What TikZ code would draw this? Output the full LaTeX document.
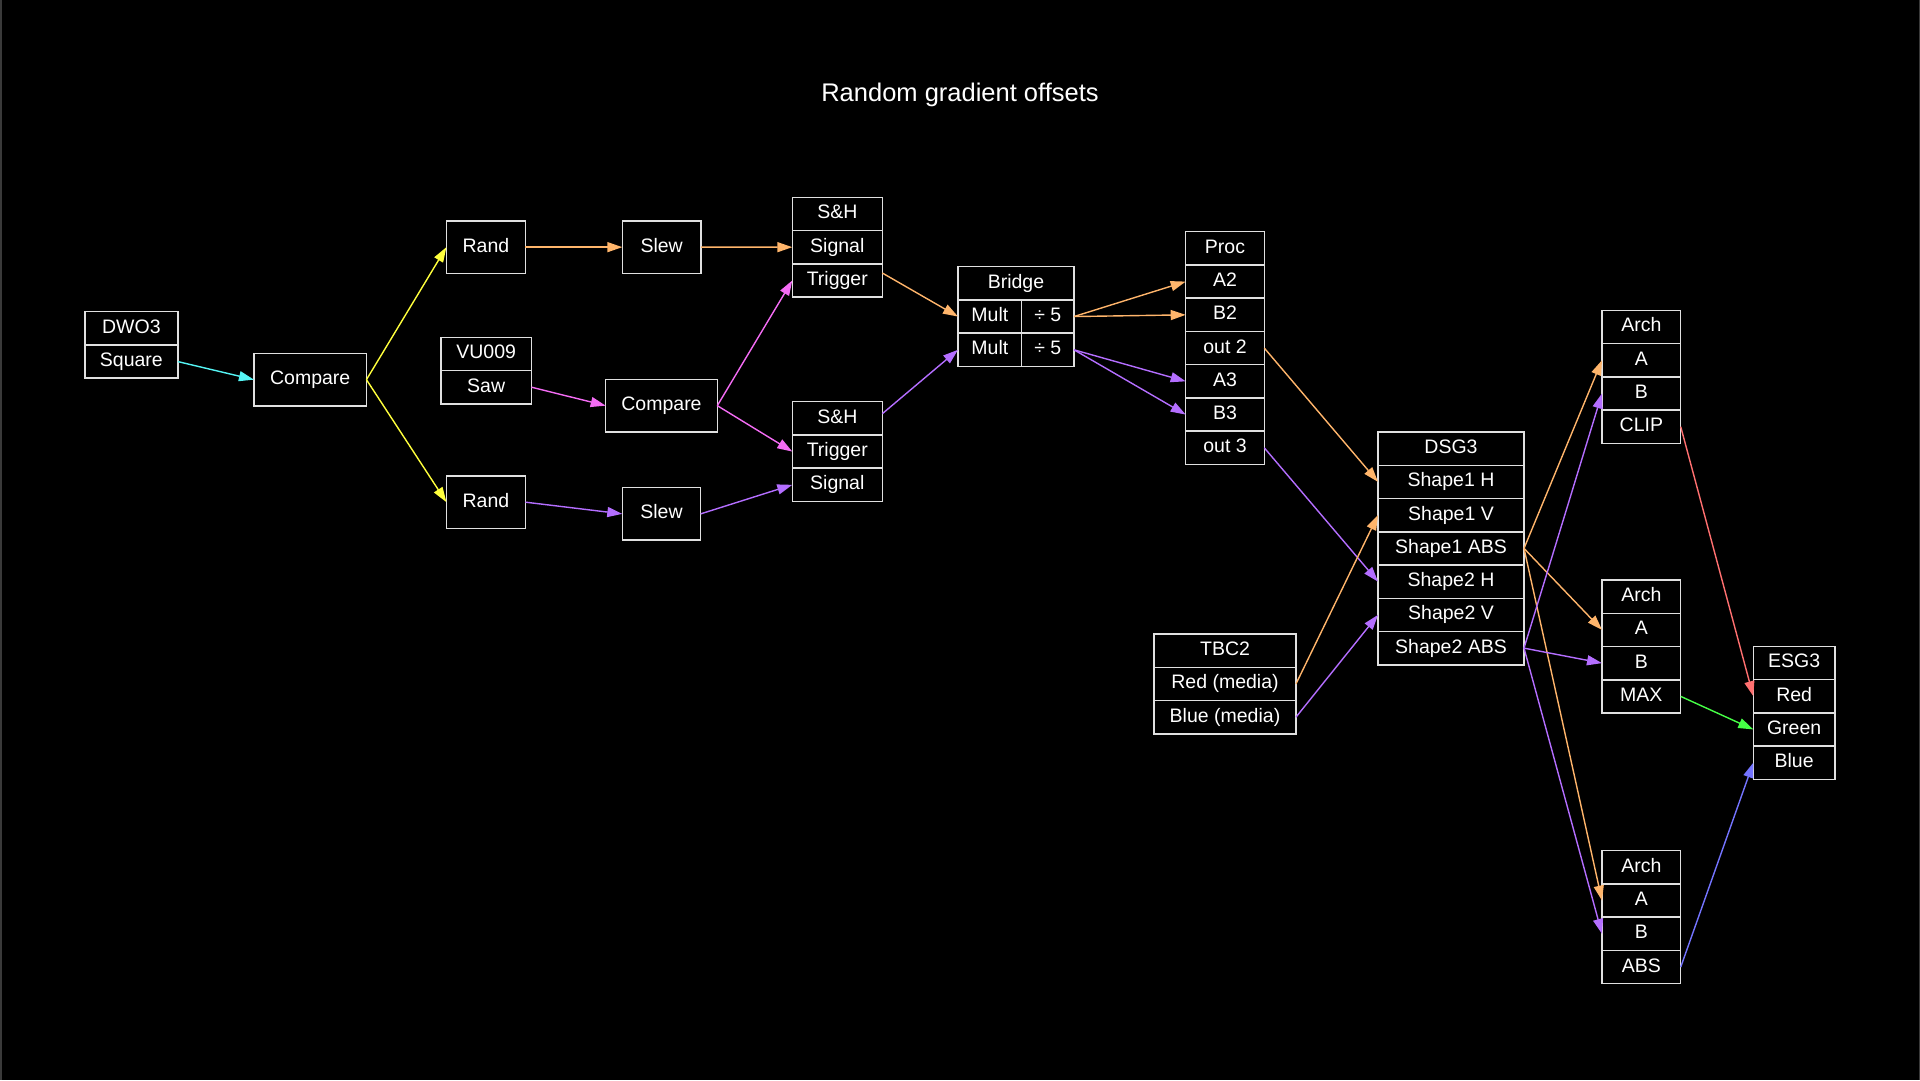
\documentclass[tikz,border=0pt]{standalone}
\usepackage{fontspec}
\setmainfont{Liberation Sans}
\usetikzlibrary{arrows.meta}
\definecolor{cCyan}{HTML}{55F5F5}
\definecolor{cYellow}{HTML}{FFFF3C}
\definecolor{cOrange}{HTML}{FFB56B}
\definecolor{cPink}{HTML}{F46CF4}
\definecolor{cPurple}{HTML}{B46EFF}
\definecolor{cRed}{HTML}{FF7070}
\definecolor{cGreen}{HTML}{46FF46}
\definecolor{cBlue}{HTML}{7474FF}
\definecolor{boxline}{HTML}{E0E0E0}
\definecolor{frameline}{HTML}{3A3A3A}
\tikzset{
  cell/.style={draw=boxline, line width=1.5pt, fill=black, text=white, inner sep=0pt, outer sep=0pt,
    minimum height=33.25pt, font=\fontsize{19.5pt}{23pt}\selectfont, text height=14pt, text depth=4pt},
  outerbox/.style={inner sep=0pt, outer sep=0pt},
  link/.style={line width=1.4pt, -{Triangle[length=15pt,width=10pt]}},
  titletext/.style={text=white, font=\fontsize{25.5pt}{30pt}\selectfont, inner sep=0pt, anchor=base},
}
% name, cx, ytop, width, rows, labels
\newcommand\recbox[6]{%
  \node[outerbox, minimum width=#4 pt, minimum height={#5*33.25pt}] (#1) at (#2, {#3+#5*33.25/2}) {};
  \foreach \t [count=\i] in {#6} {\node[cell, minimum width=#4 pt] (#1-\i) at (#2, {#3+(\i-0.5)*33.25}) {\t};}
}
\begin{document}
\begin{tikzpicture}[x=1pt, y=-1pt]
\fill[black] (0,0) rectangle (1920,1080);
\useasboundingbox (0,0) rectangle (1920,1080);
\draw[frameline, line width=1.5pt] (0.75,0) -- (0.75,1080);
\draw[frameline, line width=1.5pt] (1919.25,0) -- (1919.25,1080);

\node[titletext] (title) at (960,101.3) {Random gradient offsets};

% single nodes
\node[cell, minimum width=112.5pt, minimum height=52.7pt] (cmp1) at (310.2,379.65) {Compare};
\node[cell, minimum width=79pt, minimum height=52.3pt] (rand1) at (485.9,247.15) {Rand};
\node[cell, minimum width=79pt, minimum height=52.3pt] (rand2) at (485.9,502.15) {Rand};
\node[cell, minimum width=78.7pt, minimum height=52.3pt] (slew1) at (661.65,247.15) {Slew};
\node[cell, minimum width=111.6pt, minimum height=52.7pt] (cmp2) at (661.5,405.65) {Compare};
\node[cell, minimum width=78.4pt, minimum height=52.3pt] (slew2) at (661.5,513.85) {Slew};

% records
\recbox{dwo}{131.4}{311.7}{92.9}{2}{DWO3,Square}
\recbox{vu}{486.2}{337.3}{90.4}{2}{VU009,Saw}
\recbox{sh1}{837.3}{197.3}{90}{3}{S\&H,Signal,Trigger}
\recbox{sh2}{837.3}{401.7}{90}{3}{S\&H,Trigger,Signal}
\recbox{proc}{1225}{231.7}{78.6}{7}{Proc,A2,B2,out 2,A3,B3,out 3}
\recbox{dsg}{1451}{432}{146}{7}{DSG3,Shape1 H,Shape1 V,Shape1 ABS,Shape2 H,Shape2 V,Shape2 ABS}
\recbox{tbc}{1225}{634}{142}{3}{TBC2,Red (media),Blue (media)}
\recbox{arch1}{1641.35}{310.3}{78.7}{4}{Arch,A,B,CLIP}
\recbox{arch2}{1641.35}{580}{78.7}{4}{Arch,A,B,MAX}
\recbox{arch3}{1641.35}{850.7}{78.7}{4}{Arch,A,B,ABS}
\recbox{esg}{1794.15}{646.3}{81.7}{4}{ESG3,Red,Green,Blue}

% bridge
\node[outerbox, minimum width=116pt, minimum height=99.75pt] (br) at (1016,316.6) {};
\node[cell, minimum width=116pt] (br-1) at (1016,283.3) {Bridge};
\node[cell, minimum width=63.7pt] (br-m1) at (989.85,316.55) {Mult};
\node[cell, minimum width=52.3pt] (br-d1) at (1047.85,316.55) {÷ 5};
\node[cell, minimum width=63.7pt] (br-m2) at (989.85,349.8) {Mult};
\node[cell, minimum width=52.3pt] (br-d2) at (1047.85,349.8) {÷ 5};

% connectors
\draw[link, cCyan] (dwo-2.east) -- (cmp1.west);
\draw[link, cYellow] (cmp1.east) -- (rand1.west);
\draw[link, cYellow] (cmp1.east) -- (rand2.west);
\draw[link, cOrange] (rand1.east) -- (slew1.west);
\draw[link, cOrange] (slew1.east) -- (sh1-2.west);
\draw[link, cPink] (vu-2.east) -- (cmp2.west);
\draw[link, cPink] (cmp2.east) -- (sh1-3.west);
\draw[link, cPink] (cmp2.east) -- (sh2-2.west);
\draw[link, cPurple] (rand2.east) -- (slew2.west);
\draw[link, cPurple] (slew2.east) -- (sh2-3.west);
\draw[link, cOrange] (sh1) -- (br-m1.west);
\draw[link, cPurple] (sh2) -- (br-m2.west);
\draw[link, cOrange] (br-d1.east) -- (proc-2.west);
\draw[link, cOrange] (br-d1.east) -- (proc-3.west);
\draw[link, cPurple] (br-d2.east) -- (proc-5.west);
\draw[link, cPurple] (br-d2.east) -- (proc-6.west);
\draw[link, cOrange] (proc-4.east) -- (dsg-2.west);
\draw[link, cPurple] (proc-7.east) -- (dsg-5.west);
\draw[link, cOrange] (tbc-2.east) -- (dsg-3.west);
\draw[link, cPurple] (tbc-3.east) -- (dsg-6.west);
\draw[link, cOrange] (dsg-4.east) -- (arch1-2.west);
\draw[link, cOrange] (dsg-4.east) -- (arch2-2.west);
\draw[link, cOrange] (dsg-4.east) -- (arch3-2.west);
\draw[link, cPurple] (dsg-7.east) -- (arch1-3.west);
\draw[link, cPurple] (dsg-7.east) -- (arch2-3.west);
\draw[link, cPurple] (dsg-7.east) -- (arch3-3.west);
\draw[link, cRed] (arch1-4.east) -- (esg-2.west);
\draw[link, cGreen] (arch2-4.east) -- (esg-3.west);
\draw[link, cBlue] (arch3-4.east) -- (esg-4.west);
\end{tikzpicture}
\end{document}
